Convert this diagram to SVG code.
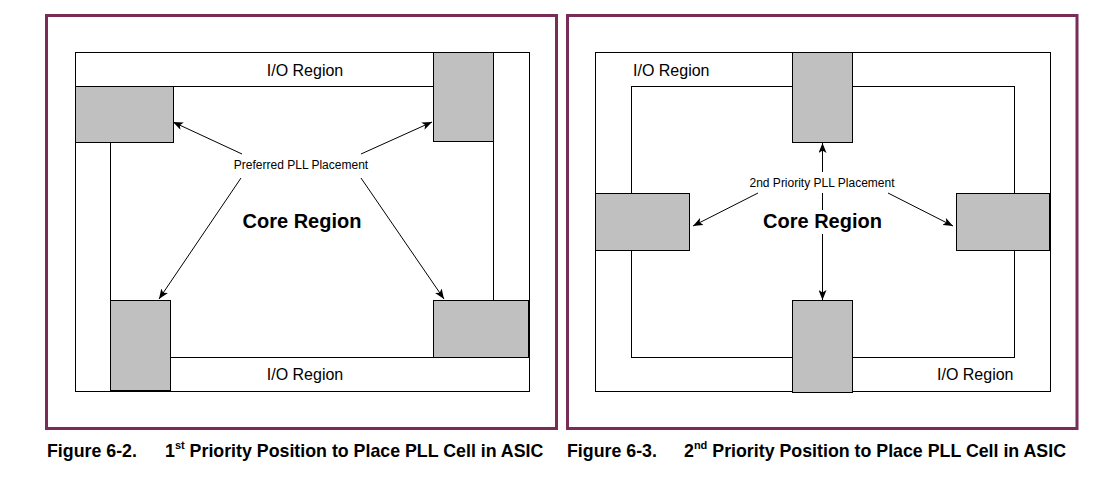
<svg xmlns="http://www.w3.org/2000/svg" width="1103" height="485" viewBox="0 0 1103 485">
<style>
.frame{fill:none;stroke:#7a2c58;stroke-width:3}
.ln{fill:none;stroke:#000;stroke-width:1}
.box{fill:#c0c0c0;stroke:#000;stroke-width:1}
.io{font-family:"Liberation Sans",Arial,sans-serif;font-size:16px;fill:#000}
.lbl{font-family:"Liberation Sans",Arial,sans-serif;font-size:12px;fill:#000}
.core{font-family:"Liberation Sans",Arial,sans-serif;font-size:20px;font-weight:bold;fill:#000}
.cap{font-family:"Liberation Sans",Arial,sans-serif;font-size:17.8px;font-weight:bold;fill:#000}
.arr{fill:none;stroke:#000;stroke-width:1;marker-end:url(#ah)}
</style>
<defs>
<marker id="ah" viewBox="0 0 10 8" refX="10" refY="4" markerWidth="10" markerHeight="8" markerUnits="userSpaceOnUse" orient="auto">
<path d="M0,0 L10,4 L0,8 L2.5,4 z" fill="#000"/>
</marker>
</defs>
<rect width="1103" height="485" fill="#fff"/>

<g id="figure-6-2">
  <rect id="frame-left" class="frame" x="46.5" y="15.5" width="510" height="413"/>
  <g id="chip-left">
    <rect class="ln" x="75.5" y="52.5" width="454" height="339"/>
    <path class="ln" d="M75.5,86.5 H433.5 M110.5,142.5 V300.5 M493.5,141.5 V300.5 M170.5,357.5 H433.5"/>
  </g>
  <g id="pll-tl"><rect class="box" x="75.5" y="86.5" width="98" height="56"/></g>
  <g id="pll-tr"><rect class="box" x="433.5" y="52.5" width="60" height="89"/></g>
  <g id="pll-bl"><rect class="box" x="110.5" y="300.5" width="60" height="90"/></g>
  <g id="pll-br"><rect class="box" x="433.5" y="300.5" width="95" height="57"/></g>
  <g id="labels-left">
    <text class="io" x="305" y="76" text-anchor="middle">I/O Region</text>
    <text class="io" x="305" y="380" text-anchor="middle">I/O Region</text>
    <text class="lbl" x="301" y="169" text-anchor="middle">Preferred PLL Placement</text>
    <text class="core" x="302" y="228" text-anchor="middle">Core Region</text>
  </g>
  <g id="connectors-left">
    <line class="arr" x1="242" y1="154" x2="173" y2="122"/>
    <line class="arr" x1="361" y1="154" x2="432" y2="122"/>
    <line class="arr" x1="241" y1="178" x2="159" y2="299"/>
    <line class="arr" x1="361" y1="178" x2="444" y2="299"/>
  </g>
  <text class="cap" x="47" y="457">Figure 6-2.</text>
  <text class="cap" x="165" y="457">1<tspan font-size="11" dy="-8">st</tspan><tspan dy="8"> Priority Position to Place PLL Cell in ASIC</tspan></text>
</g>

<g id="figure-6-3">
  <rect id="frame-right" class="frame" x="567.5" y="15.5" width="509.5" height="413"/>
  <g id="chip-right">
    <rect class="ln" x="595.5" y="52.5" width="455" height="339"/>
    <rect class="ln" x="631.5" y="86.5" width="383" height="271"/>
  </g>
  <g id="pll-top"><rect class="box" x="792.5" y="52.5" width="60" height="90"/></g>
  <g id="pll-left"><rect class="box" x="595.5" y="193.5" width="94" height="57"/></g>
  <g id="pll-right"><rect class="box" x="956.5" y="193.5" width="93" height="57"/></g>
  <g id="pll-bottom"><rect class="box" x="792.5" y="300.5" width="60" height="92"/></g>
  <g id="labels-right">
    <text class="io" x="633" y="76">I/O Region</text>
    <text class="io" x="937" y="380">I/O Region</text>
    <text class="lbl" x="822" y="187" text-anchor="middle">2nd Priority PLL Placement</text>
    <text class="core" x="822.5" y="228" text-anchor="middle">Core Region</text>
  </g>
  <g id="connectors-right">
    <line class="arr" x1="822.5" y1="172" x2="822.5" y2="143"/>
    <line class="ln" x1="822.5" y1="193" x2="822.5" y2="210"/>
    <line class="arr" x1="822.5" y1="234" x2="822.5" y2="300"/>
    <line class="arr" x1="758" y1="193" x2="693" y2="226"/>
    <line class="arr" x1="888" y1="193" x2="953" y2="226"/>
  </g>
  <text class="cap" x="567" y="457">Figure 6-3.</text>
  <text class="cap" x="684" y="457">2<tspan font-size="11" dy="-8">nd</tspan><tspan dy="8"> Priority Position to Place PLL Cell in ASIC</tspan></text>
</g>
</svg>
